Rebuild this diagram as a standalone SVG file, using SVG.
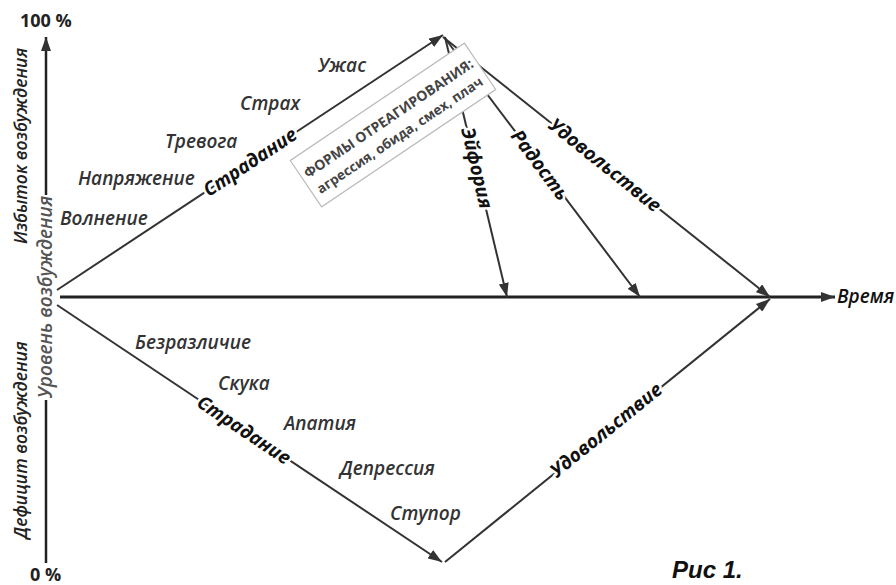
<svg xmlns="http://www.w3.org/2000/svg" width="896" height="585" viewBox="0 0 896 585">
  <style>
    .ln{stroke:#333;stroke-width:2;fill:none}
    .ax{stroke:#222;stroke-width:2.5;fill:none}
    .emo{font-family:"Open Sans","DejaVu Sans",sans-serif;font-style:italic;font-weight:600;font-size:19px;fill:#333}
    .side{font-family:"Open Sans","DejaVu Sans",sans-serif;font-style:italic;font-weight:600;font-size:17.5px;fill:#222}
    .lbl{font-family:"Open Sans","DejaVu Sans",sans-serif;font-style:italic;font-weight:bold;font-size:19px;fill:#111;stroke:#fff;stroke-width:5;paint-order:stroke;stroke-linejoin:round}
    .pct{font-family:"Open Sans","DejaVu Sans",sans-serif;font-weight:bold;font-size:18px;fill:#222}
    .box{font-family:"Open Sans","DejaVu Sans",sans-serif;font-weight:bold;fill:#444}
  </style>
  <defs>
    <marker id="ah" viewBox="0 0 14 10" refX="14" refY="5" markerWidth="14" markerHeight="10" orient="auto" markerUnits="userSpaceOnUse">
      <path d="M0,0 L14,5 L0,10 z" fill="#333"/>
    </marker>
  </defs>

  <g id="axes">
    <line class="ax" x1="46" y1="563" x2="46" y2="400"/>
    <line class="ax" x1="46" y1="195" x2="46" y2="37" marker-end="url(#ah)"/>
    <line x1="60" y1="297" x2="835" y2="297" stroke="#222" stroke-width="3" marker-end="url(#ah)"/>
    <text class="pct" x="20" y="27">100 %</text>
    <text class="pct" x="30" y="581">0 %</text>
    <text class="side" transform="translate(52,297) rotate(-90)" text-anchor="middle" style="fill:#555;font-size:19px">Уровень возбуждения</text>
    <text class="side" transform="translate(27,146) rotate(-90)" text-anchor="middle">Избыток возбуждения</text>
    <text class="side" transform="translate(27,440) rotate(-90)" text-anchor="middle">Дефицит возбуждения</text>
    <text class="emo" x="837" y="303" style="fill:#111">Время</text>
  </g>

  <g id="connectors">
    <line class="ln" x1="57" y1="290" x2="443" y2="35" marker-end="url(#ah)"/>
    <line class="ln" x1="445" y1="37" x2="507" y2="297" marker-end="url(#ah)"/>
    <line class="ln" x1="444" y1="37" x2="640" y2="297" marker-end="url(#ah)"/>
    <line class="ln" x1="443" y1="37" x2="770" y2="297" marker-end="url(#ah)"/>
    <line class="ln" x1="57" y1="305" x2="442" y2="562" marker-end="url(#ah)"/>
    <line class="ln" x1="445" y1="562" x2="770" y2="299" marker-end="url(#ah)"/>
    <text class="lbl" transform="translate(250,162) rotate(-33.5)" text-anchor="middle" dy="0.35em">Страдание</text>
    <text class="lbl" transform="translate(477,168) rotate(76.7)" text-anchor="middle" dy="0.35em">Эйфория</text>
    <text class="lbl" transform="translate(540,165) rotate(53.2)" text-anchor="middle" dy="0.35em">Радость</text>
    <text class="lbl" transform="translate(605,165) rotate(38.7)" text-anchor="middle" dy="0.35em">Удовольствие</text>
    <text class="lbl" transform="translate(244,430) rotate(33.7)" text-anchor="middle" dy="0.35em">Страдание</text>
    <text class="lbl" transform="translate(606,430) rotate(-38.9)" text-anchor="middle" dy="0.35em">Удовольствие</text>
  </g>

  <g id="upper-states">
    <text class="emo" x="318" y="72">Ужас</text>
    <text class="emo" x="240" y="110">Страх</text>
    <text class="emo" x="165" y="148">Тревога</text>
    <text class="emo" x="78" y="185">Напряжение</text>
    <text class="emo" x="60" y="225">Волнение</text>
  </g>

  <g id="lower-states">
    <text class="emo" x="135" y="349">Безразличие</text>
    <text class="emo" x="218" y="390">Скука</text>
    <text class="emo" x="284" y="430">Апатия</text>
    <text class="emo" x="340" y="475">Депрессия</text>
    <text class="emo" x="390" y="520">Ступор</text>
  </g>

  <g id="reaction-box" transform="translate(393,125) rotate(-34)">
    <rect x="-105" y="-28" width="210" height="56" fill="#fff" stroke="#bbb" stroke-width="1.2"/>
    <text class="box" x="0" y="-3" text-anchor="middle" font-size="14">ФОРМЫ ОТРЕАГИРОВАНИЯ:</text>
    <text class="box" x="0" y="17" text-anchor="middle" font-size="13.5">агрессия, обида, смех, плач</text>
  </g>

  <g id="caption">
    <text x="672" y="578" font-family="Liberation Sans, Arial, sans-serif" font-weight="bold" font-style="italic" font-size="24" fill="#111">Рис 1.</text>
  </g>
</svg>
